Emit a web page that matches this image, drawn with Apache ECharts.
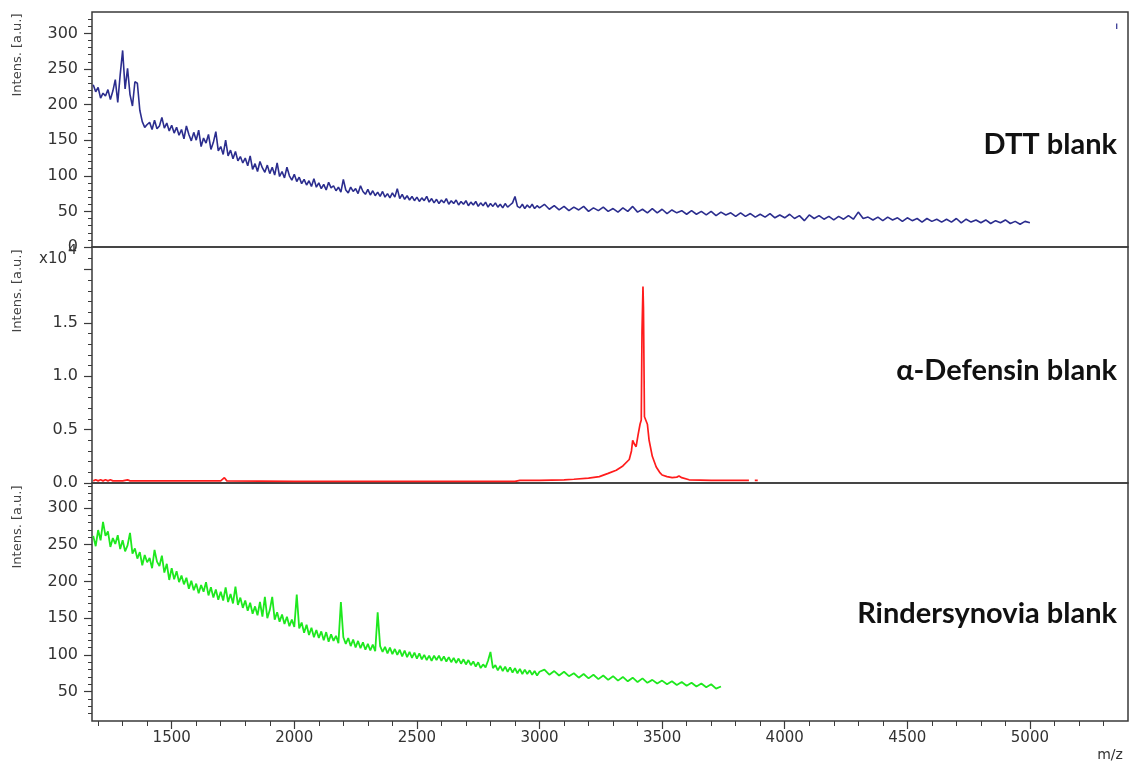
<!DOCTYPE html>
<html><head><meta charset="utf-8">
<script src="https://cdn.jsdelivr.net/npm/echarts@6/dist/echarts.min.js"></script>
<style>html,body{margin:0;padding:0;background:#fff}#c{width:1132px;height:764px}</style>
</head><body><div id="c"></div>
<script>
// ---------- tick values ----------
const xMajorTicks = [1500, 2000, 2500, 3000, 3500, 4000, 4500, 5000];
const xMinorTicks = [1200, 1300, 1400, 1600, 1700, 1800, 1900, 2100, 2200, 2300, 2400, 2600, 2700, 2800, 2900,
  3100, 3200, 3300, 3400, 3600, 3700, 3800, 3900, 4100, 4200, 4300, 4400, 4600, 4700, 4800, 4900, 5100, 5200, 5300];
const dttMajorTicks = [0, 50, 100, 150, 200, 250, 300];
const dttMinorTicks = [10, 20, 30, 40, 60, 70, 80, 90, 110, 120, 130, 140, 160, 170, 180, 190, 210, 220, 230, 240, 260, 270, 280, 290, 310, 320];
const defMajorTicks = [0, 0.5, 1.0, 1.5, 2.0];
const defLabelTicks = [0, 0.5, 1.0, 1.5];
const defMinorTicks = [0.1, 0.2, 0.3, 0.4, 0.6, 0.7, 0.8, 0.9, 1.1, 1.2, 1.3, 1.4, 1.6, 1.7, 1.8, 1.9, 2.1];
const rinMajorTicks = [50, 100, 150, 200, 250, 300];
const rinMinorTicks = [20, 30, 40, 60, 70, 80, 90, 110, 120, 130, 140, 160, 170, 180, 190, 210, 220, 230, 240, 260, 270, 280, 290, 310, 320, 330];

// ---------- series values: [m/z, intensity] ----------
const dttSpectrum = [
  [1180,228],[1190,218],[1200,224],[1210,209],[1220,216],[1230,212],[1240,221],[1250,207],[1260,219],[1270,235],
  [1280,203],[1290,242],[1300,276],[1310,222],[1320,251],[1330,214],[1340,198],[1350,232],[1360,230],[1370,192],
  [1380,176],[1390,168],[1400,172],[1410,175],[1420,165],[1430,178],[1440,166],[1450,170],[1460,182],[1470,167],
  [1480,174],[1490,163],
  [1500,171],[1510,160],[1520,168],[1530,157],[1540,165],[1550,152],[1560,170],[1570,158],[1580,149],[1590,161],
  [1600,150],[1610,164],[1620,141],[1630,153],[1640,146],[1650,158],[1660,137],[1670,147],[1680,162],[1690,135],
  [1700,141],[1710,130],[1720,150],[1730,128],[1740,136],[1750,124],[1760,134],[1770,121],[1780,127],[1790,118],
  [1800,125],[1810,114],[1820,128],[1830,109],[1840,117],[1850,106],[1860,120],[1870,111],[1880,105],[1890,115],
  [1900,103],[1910,112],[1920,101],[1930,118],[1940,99],[1950,106],[1960,97],[1970,112],[1980,100],[1990,94],
  [2000,102],[2010,92],[2020,98],[2030,89],[2040,95],[2050,87],[2060,93],[2070,85],[2080,96],[2090,84],
  [2100,90],[2110,82],[2120,88],[2130,80],[2140,91],[2150,83],[2160,86],[2170,79],[2180,84],[2190,77],
  [2200,95],[2210,80],[2220,76],[2230,84],[2240,78],[2250,82],[2260,75],[2270,86],[2280,78],[2290,74],
  [2300,81],[2310,73],[2320,79],[2330,72],[2340,77],[2350,71],[2360,78],[2370,70],[2380,75],[2390,69],
  [2400,76],[2410,70],[2420,82],[2430,68],[2440,74],[2450,67],[2460,72],[2470,66],[2480,71],[2490,65],
  [2500,70],[2510,64],[2520,69],[2530,65],[2540,71],[2550,63],[2560,68],[2570,62],[2580,67],[2590,61],
  [2600,66],[2610,62],[2620,68],[2630,60],[2640,65],[2650,61],[2660,66],[2670,59],[2680,64],[2690,60],
  [2700,65],[2710,58],[2720,63],[2730,59],[2740,64],[2750,57],[2760,62],[2770,58],[2780,63],[2790,56],
  [2800,61],[2810,57],[2820,62],[2830,56],[2840,60],[2850,55],[2860,61],[2870,56],[2880,59],[2890,62],
  [2900,71],[2910,57],[2920,55],[2930,60],[2940,54],[2950,59],[2960,55],[2970,60],[2980,54],[2990,58],
  [3000,55],[3020,60],[3040,53],[3060,58],[3080,52],[3100,57],[3120,51],[3140,56],[3160,52],[3180,57],
  [3200,50],[3220,55],[3240,51],[3260,56],[3280,50],[3300,54],[3320,49],[3340,55],[3360,50],[3380,57],
  [3400,49],[3420,53],[3440,48],[3460,54],[3480,48],[3500,53],[3520,47],[3540,52],[3560,48],[3580,51],
  [3600,46],[3620,51],[3640,46],[3660,50],[3680,45],[3700,50],[3720,44],[3740,49],[3760,45],[3780,48],
  [3800,43],[3820,48],[3840,43],[3860,47],[3880,42],[3900,46],[3920,42],[3940,47],[3960,41],[3980,45],
  [4000,41],[4020,46],[4040,40],[4060,44],[4080,37],[4100,45],[4120,40],[4140,44],[4160,39],[4180,43],
  [4200,38],[4220,43],[4240,39],[4260,44],[4280,39],[4300,49],[4320,40],[4340,42],[4360,38],[4380,42],
  [4400,37],[4420,42],[4440,38],[4460,41],[4480,36],[4500,41],[4520,37],[4540,40],[4560,35],[4580,40],
  [4600,36],[4620,39],[4640,35],[4660,39],[4680,35],[4700,40],[4720,34],[4740,39],[4760,35],[4780,38],
  [4800,34],[4820,38],[4840,33],[4860,37],[4880,34],[4900,38],[4920,33],[4940,36],[4960,32],[4980,36],
  [5000,34]
];
const dttStrayMark = [[5354,306],[5354,314]];

// alpha-defensin, intensity in units of 10^4
const defensinSpectrum = [
  [1180,0.02],[1190,0.03],[1200,0.02],[1210,0.03],[1220,0.02],[1230,0.03],[1240,0.02],[1250,0.03],[1260,0.02],
  [1300,0.02],[1320,0.03],[1330,0.02],[1400,0.02],[1700,0.02],[1715,0.05],[1725,0.02],[2000,0.015],[2500,0.015],
  [2900,0.015],[2920,0.025],[3000,0.025],[3100,0.03],[3140,0.035],[3200,0.045],[3244,0.06],[3280,0.09],
  [3313,0.12],[3340,0.16],[3366,0.22],[3375,0.30],[3380,0.40],[3388,0.36],[3394,0.34],[3402,0.45],[3410,0.55],
  [3415,0.59],[3418,1.42],[3421,1.42],[3422,1.84],[3424,1.64],[3427,1.64],[3428,0.62],[3440,0.55],[3447,0.40],
  [3460,0.25],[3476,0.15],[3490,0.10],[3500,0.075],[3520,0.06],[3541,0.05],[3560,0.055],[3569,0.065],[3580,0.05],
  [3610,0.03],[3700,0.025],[3800,0.025],[3854,0.025]
];
const defensinStrayMark = [[3878,0.025],[3890,0.025]];

const rinderSpectrum = [
  [1180,262],[1190,248],[1200,270],[1210,256],[1220,281],[1230,262],[1240,268],[1250,247],[1260,259],[1270,251],
  [1280,263],[1290,244],[1300,256],[1310,241],[1320,249],[1330,266],[1340,238],[1350,245],[1360,231],[1370,240],
  [1380,222],[1390,236],[1400,226],[1410,232],[1420,218],[1430,243],[1440,227],[1450,221],[1460,235],[1470,212],
  [1480,224],[1490,202],
  [1500,218],[1510,203],[1520,214],[1530,199],[1540,208],[1550,196],[1560,205],[1570,190],[1580,201],[1590,188],
  [1600,197],[1610,184],[1620,195],[1630,186],[1640,199],[1650,181],[1660,192],[1670,178],[1680,189],[1690,175],
  [1700,186],[1710,174],[1720,192],[1730,172],[1740,183],[1750,170],[1760,193],[1770,168],[1780,178],[1790,164],
  [1800,174],[1810,160],[1820,171],[1830,156],[1840,166],[1850,154],[1860,172],[1870,152],[1880,179],[1890,150],
  [1900,161],[1910,179],[1920,148],[1930,158],[1940,145],[1950,155],[1960,142],[1970,152],[1980,139],[1990,148],
  [2000,138],[2010,182],[2020,136],[2030,144],[2040,130],[2050,141],[2060,127],[2070,137],[2080,124],[2090,134],
  [2100,123],[2110,132],[2120,120],[2130,131],[2140,118],[2150,128],[2160,119],[2170,126],[2180,116],[2190,172],
  [2200,124],[2210,115],[2220,123],[2230,112],[2240,121],[2250,110],[2260,119],[2270,109],[2280,117],[2290,107],
  [2300,115],[2310,106],[2320,114],[2330,105],[2340,158],[2350,112],[2360,104],[2370,111],[2380,102],[2390,110],
  [2400,101],[2410,108],[2420,100],[2430,107],[2440,98],[2450,106],[2460,97],[2470,104],[2480,96],[2490,103],
  [2500,95],[2510,102],[2520,94],[2530,100],[2540,93],[2550,99],[2560,92],[2570,99],[2580,93],[2590,99],
  [2600,92],[2610,98],[2620,91],[2630,97],[2640,90],[2650,96],[2660,89],[2670,95],[2680,88],[2690,94],
  [2700,87],[2710,93],[2720,86],[2730,91],[2740,84],[2750,90],[2760,82],[2770,87],[2780,83],[2790,92],
  [2800,104],[2810,82],[2820,86],[2830,79],[2840,85],[2850,78],[2860,84],[2870,77],[2880,83],[2890,76],
  [2900,82],[2910,75],[2920,81],[2930,74],[2940,80],[2950,74],[2960,79],[2970,73],[2980,78],[2990,72],
  [3000,77],[3020,80],[3040,73],[3060,78],[3080,72],[3100,77],[3120,71],[3140,75],[3160,69],[3180,74],
  [3200,68],[3220,73],[3240,67],[3260,72],[3280,66],[3300,71],[3320,65],[3340,70],[3360,64],[3380,69],
  [3400,63],[3420,68],[3440,62],[3460,66],[3480,61],[3500,65],[3520,60],[3540,64],[3560,59],[3580,63],
  [3600,58],[3620,62],[3640,57],[3660,61],[3680,56],[3700,60],[3720,54],[3740,57]
];

const panelNames = ['DTT blank', 'α-Defensin blank', 'Rindersynovia blank'];
const yAxisTitle = 'Intens. [a.u.]';
const xAxisTitle = 'm/z';

// ---------- chart ----------
const X_MIN = 1175, X_MAX = 5400;
const FONT = '"DejaVu Sans", "Liberation Sans", sans-serif';
const AX = '#3a3a3a';

function hiddenX(grid) {
  return { type: 'value', gridIndex: grid, min: X_MIN, max: X_MAX, show: true,
    axisLine: { show: false }, axisTick: { show: false }, axisLabel: { show: false }, splitLine: { show: false } };
}
function majorY(grid, min, max, ticks, labels, fmt) {
  return { type: 'value', gridIndex: grid, min: min, max: max, position: 'left',
    axisLine: { show: false }, splitLine: { show: false },
    axisTick: { show: true, length: 8, customValues: ticks, lineStyle: { color: AX, width: 1.2 } },
    axisLabel: { show: true, customValues: labels, margin: 14, color: '#333', fontFamily: FONT, fontSize: 16,
      formatter: fmt } };
}
function minorY(grid, min, max, ticks) {
  return { type: 'value', gridIndex: grid, min: min, max: max, position: 'left',
    axisLine: { show: false }, splitLine: { show: false }, axisLabel: { show: false },
    axisTick: { show: true, length: 4, customValues: ticks, lineStyle: { color: AX, width: 1 } } };
}

const chart = echarts.init(document.getElementById('c'), null, { renderer: 'canvas' });
const gridBase = { left: 92, width: 1036, show: true, borderColor: AX, borderWidth: 1.5, backgroundColor: 'transparent' };

const option = {
  backgroundColor: '#fff',
  animation: false,
  grid: [
    Object.assign({ top: 12, height: 235 }, gridBase),
    Object.assign({ top: 247, height: 236 }, gridBase),
    Object.assign({ top: 483, height: 238 }, gridBase)
  ],
  xAxis: [
    hiddenX(0), hiddenX(1),
    { type: 'value', gridIndex: 2, min: X_MIN, max: X_MAX, position: 'bottom',
      axisLine: { show: false }, splitLine: { show: false },
      axisTick: { show: true, length: 8, customValues: xMajorTicks, lineStyle: { color: AX, width: 1.2 } },
      axisLabel: { show: true, customValues: xMajorTicks, margin: 10, color: '#333', fontFamily: FONT, fontSize: 15,
        formatter: v => String(v) } },
    { type: 'value', gridIndex: 2, min: X_MIN, max: X_MAX, position: 'bottom',
      axisLine: { show: false }, splitLine: { show: false }, axisLabel: { show: false },
      axisTick: { show: true, length: 5, customValues: xMinorTicks, lineStyle: { color: AX, width: 1 } } }
  ],
  yAxis: [
    majorY(0, 0, 330, dttMajorTicks, dttMajorTicks, v => String(v)),
    minorY(0, 0, 330, dttMinorTicks),
    majorY(1, 0, 2.21, defMajorTicks, defLabelTicks, v => Number(v).toFixed(1)),
    minorY(1, 0, 2.21, defMinorTicks),
    majorY(2, 10, 334, rinMajorTicks, rinMajorTicks, v => String(v)),
    minorY(2, 10, 334, rinMinorTicks)
  ],
  series: [
    { type: 'line', name: panelNames[0], xAxisIndex: 0, yAxisIndex: 0, data: dttSpectrum, showSymbol: false, symbol: 'none',
      lineStyle: { color: '#2b2d8e', width: 1.6 }, silent: true },
    { type: 'line', xAxisIndex: 0, yAxisIndex: 0, data: dttStrayMark, showSymbol: false, symbol: 'none',
      lineStyle: { color: '#2b2d8e', width: 1.2 }, silent: true },
    { type: 'line', name: panelNames[1], xAxisIndex: 1, yAxisIndex: 2, data: defensinSpectrum, showSymbol: false, symbol: 'none',
      lineStyle: { color: '#ff1c1c', width: 1.7 }, silent: true },
    { type: 'line', xAxisIndex: 1, yAxisIndex: 2, data: defensinStrayMark, showSymbol: false, symbol: 'none',
      lineStyle: { color: '#ff1c1c', width: 1.7 }, silent: true },
    { type: 'line', name: panelNames[2], xAxisIndex: 2, yAxisIndex: 4, data: rinderSpectrum, showSymbol: false, symbol: 'none',
      lineStyle: { color: '#1ee81e', width: 1.8 }, silent: true }
  ],
  graphic: [
    { type: 'text', x: 18, y: 55, rotation: Math.PI / 2, style: { text: yAxisTitle, fill: '#444', font: '13px ' + FONT, textAlign: 'center', textVerticalAlign: 'middle' } },
    { type: 'text', x: 18, y: 291, rotation: Math.PI / 2, style: { text: yAxisTitle, fill: '#444', font: '13px ' + FONT, textAlign: 'center', textVerticalAlign: 'middle' } },
    { type: 'text', x: 18, y: 527, rotation: Math.PI / 2, style: { text: yAxisTitle, fill: '#444', font: '13px ' + FONT, textAlign: 'center', textVerticalAlign: 'middle' } },
    { type: 'text', x: 39, y: 259, style: { text: 'x10', fill: '#333', font: '15px ' + FONT, textAlign: 'left', textVerticalAlign: 'middle' } },
    { type: 'text', x: 68, y: 250, style: { text: '4', fill: '#333', font: '14px ' + FONT, textAlign: 'left', textVerticalAlign: 'middle' } },
    { type: 'text', x: 1110, y: 755, style: { text: xAxisTitle, fill: '#333', font: '14px ' + FONT, textAlign: 'center', textVerticalAlign: 'middle' } },
    { type: 'text', x: 1117, y: 145, style: { text: panelNames[0], fill: '#111', font: 'bold 29px Lato, "Noto Sans", sans-serif', textAlign: 'right', textVerticalAlign: 'middle' } },
    { type: 'text', x: 1117, y: 371, style: { text: panelNames[1], fill: '#111', font: 'bold 29px Lato, "Noto Sans", sans-serif', textAlign: 'right', textVerticalAlign: 'middle' } },
    { type: 'text', x: 1117, y: 614, style: { text: panelNames[2], fill: '#111', font: 'bold 29px Lato, "Noto Sans", sans-serif', textAlign: 'right', textVerticalAlign: 'middle' } }
  ]
};
chart.setOption(option);
</script>
</body></html>
